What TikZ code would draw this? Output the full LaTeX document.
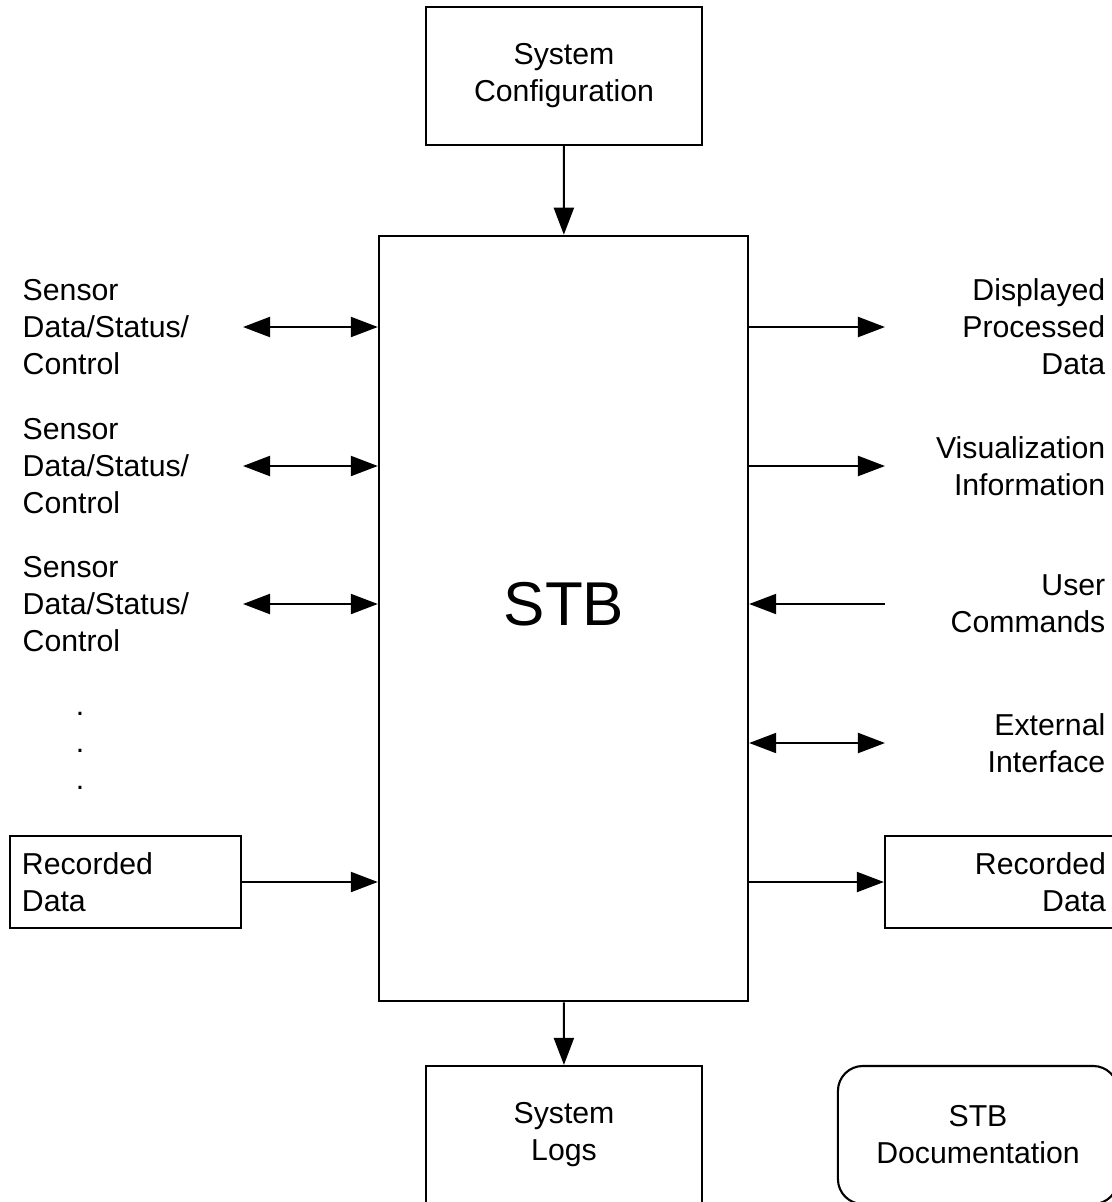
\documentclass[tikz,border=0pt]{standalone}
\usepackage{fontspec}
\setmainfont{Liberation Sans}
\usetikzlibrary{arrows.meta}
\tikzset{>={Triangle[length=7.7pt,width=5.7pt]}}
\tikzset{
  block/.style={draw, line width=0.6pt, inner sep=0},
  lbl/.style={inner sep=0, font=\fontsize{8.6pt}{10.5pt}\selectfont},
  link/.style={line width=0.6pt},
}

\begin{document}
\begin{tikzpicture}[x=0.01cm, y=-0.01cm]
  \useasboundingbox (0,0) rectangle (1111,1202);

  % centre block
  \node[block, minimum width=3.69cm, minimum height=7.65cm] (stb) at (563.5,618.5) {};
  \node[lbl, font=\fontsize{17.6pt}{20pt}\selectfont] (stbname) at (564,604) {STB};

  \node[block, lbl, align=center, minimum width=2.76cm, minimum height=1.38cm] (config) at (564,76) {System\\Configuration};
  \node[block, lbl, align=center, minimum width=2.76cm, minimum height=1.38cm] (logs) at (564,1135) {System\\Logs};
  \node[block, lbl, align=center, rounded corners=0.25cm, minimum width=2.8cm, minimum height=1.38cm] (doc) at (978,1135) {STB\\Documentation};

  \draw[link,->] (config) -- (stb);
  \draw[link,->] (stb) -- (logs);

  % sensors
  \foreach \n/\y in {1/327, 2/466, 3/604} {
    \node[lbl, anchor=west, align=left] (sensor\n) at (22,\y) {Sensor\\Data/Status/\\Control};
    \coordinate (s\n) at (243,\y);
    \draw[link,<->] (s\n) -- (stb.west |- s\n);
  }
  \node[lbl, align=center] (dots) at (80,751) {.\\.\\.};

  \node[block, lbl, align=left, text width=2.07cm, inner xsep=0.12cm, minimum height=0.92cm] (recin) at (125.5,882) {Recorded\\Data};
  \draw[link,->] (recin) -- (stb.west |- recin);

  % outputs
  \node[lbl, anchor=east, align=right] (disp) at (1106,327) {Displayed\\Processed\\Data};
  \coordinate (o1) at (885,327);
  \draw[link,->] (stb.east |- o1) -- (o1);

  \node[lbl, anchor=east, align=right] (vis) at (1106,466) {Visualization\\Information};
  \coordinate (o2) at (885,466);
  \draw[link,->] (stb.east |- o2) -- (o2);

  \node[lbl, anchor=east, align=right] (cmd) at (1106,604) {User\\Commands};
  \coordinate (o3) at (885,604);
  \draw[link,->] (o3) -- (stb.east |- o3);

  \node[lbl, anchor=east, align=right] (ext) at (1106,743) {External\\Interface};
  \coordinate (o4) at (885,743);
  \draw[link,<->] (stb.east |- o4) -- (o4);

  \node[block, lbl, align=right, text width=2.12cm, inner xsep=0.09cm, minimum height=0.92cm] (recout) at (1000,882) {Recorded\\Data};
  \draw[link,->] (stb.east |- recout) -- (recout);
\end{tikzpicture}
\end{document}
